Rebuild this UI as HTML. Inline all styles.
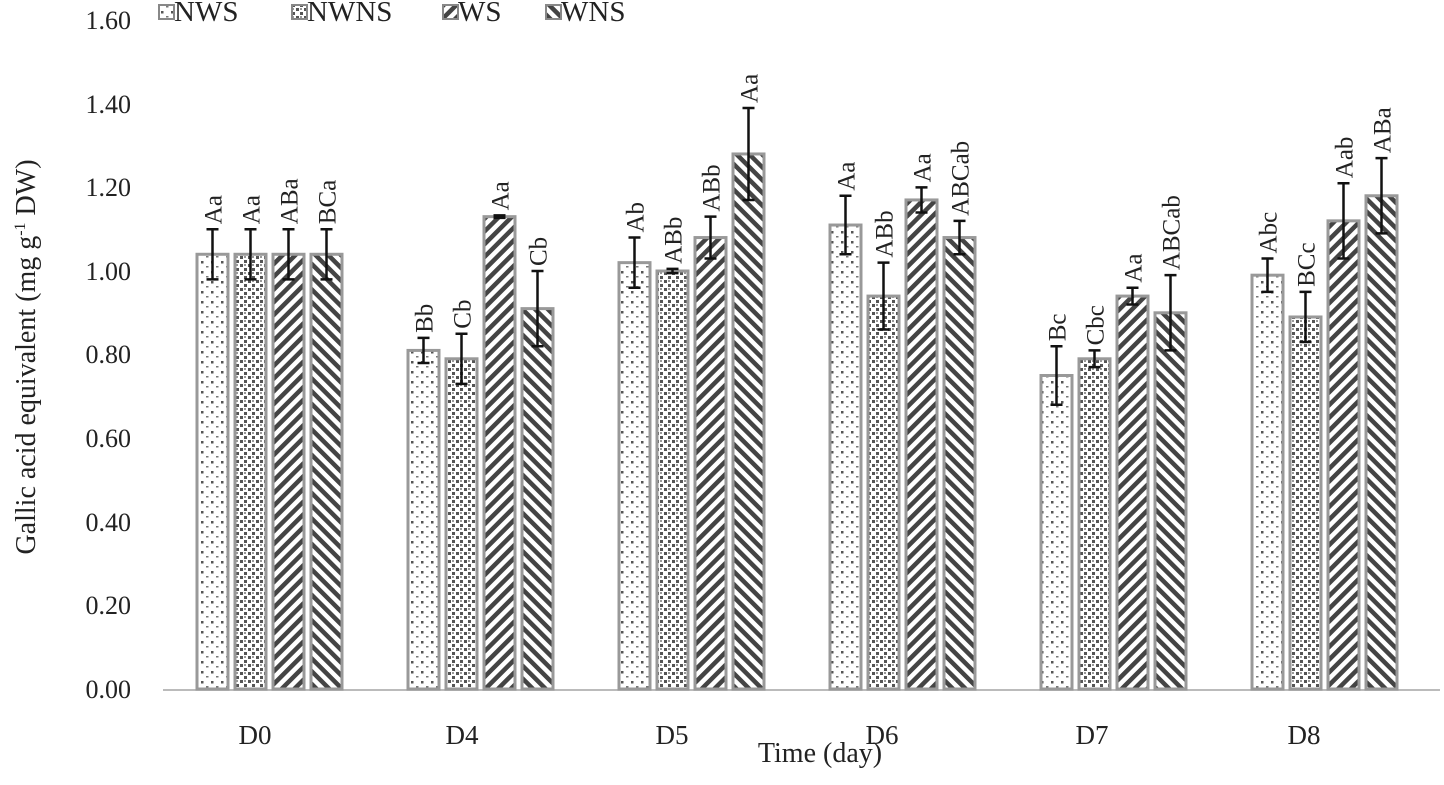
<!DOCTYPE html><html><head><style>body{margin:0;background:#fff}svg text{font-family:"Liberation Serif",serif;fill:#222}</style></head><body>
<svg width="1444" height="780" xmlns="http://www.w3.org/2000/svg">
<defs>
<pattern id="p0" width="10" height="10" patternUnits="userSpaceOnUse"><rect width="10" height="10" fill="#fff"/><rect x="1" y="1" width="2.5" height="2.5" fill="#555"/><rect x="6" y="6" width="2.5" height="1.5" fill="#777"/></pattern>
<pattern id="p1" width="8" height="8" patternUnits="userSpaceOnUse"><rect width="8" height="8" fill="#fff"/><rect x="0" y="0" width="3" height="3" fill="#555"/><rect x="4" y="4" width="3" height="3" fill="#555"/><rect x="4" y="0" width="2" height="2" fill="#999"/></pattern>
<pattern id="p2" width="9" height="9" patternUnits="userSpaceOnUse" patternTransform="rotate(-45)"><rect width="9" height="9" fill="#fff"/><rect width="9" height="4.5" fill="#444"/></pattern>
<pattern id="p3" width="9" height="9" patternUnits="userSpaceOnUse" patternTransform="rotate(45)"><rect width="9" height="9" fill="#fff"/><rect width="9" height="4.5" fill="#444"/></pattern>
</defs>
<g font-size="26" text-anchor="end">
<text x="131" y="29">1.60</text><text x="131" y="113">1.40</text><text x="131" y="196">1.20</text><text x="131" y="280">1.00</text><text x="131" y="363">0.80</text><text x="131" y="447">0.60</text><text x="131" y="531">0.40</text><text x="131" y="614">0.20</text><text x="131" y="698">0.00</text>
</g>
<text font-size="28" transform="translate(35,357) rotate(-90)" text-anchor="middle">Gallic acid equivalent (mg g<tspan dy="-10" font-size="16">-1</tspan><tspan dy="10"> DW)</tspan></text>
<line x1="163" y1="690" x2="1440" y2="690" stroke="#bbb" stroke-width="2"/>
<g id="g"></g>
<g font-size="27" text-anchor="middle">
<text x="255" y="744">D0</text><text x="462" y="744">D4</text><text x="672" y="744">D5</text><text x="882" y="744">D6</text><text x="1092" y="744">D7</text><text x="1304" y="744">D8</text>
</g>
<text x="820" y="762" font-size="28" text-anchor="middle">Time (day)</text>
<g font-size="29">
<rect x="159" y="5" width="15" height="14" fill="url(#p0)" stroke="#888" stroke-width="2"/><text x="174" y="21">NWS</text>
<rect x="292" y="5" width="15" height="14" fill="url(#p1)" stroke="#888" stroke-width="2"/><text x="307" y="21">NWNS</text>
<rect x="443" y="5" width="15" height="14" fill="url(#p2)" stroke="#888" stroke-width="2"/><text x="458" y="21">WS</text>
<rect x="546" y="5" width="15" height="14" fill="url(#p3)" stroke="#888" stroke-width="2"/><text x="561" y="21">WNS</text>
</g>
</svg>
<script>
var d=[[[1.04,.06,"Aa"],[1.04,.06,"Aa"],[1.04,.06,"ABa"],[1.04,.06,"BCa"]],
[[.81,.03,"Bb"],[.79,.06,"Cb"],[1.13,.003,"Aa"],[.91,.09,"Cb"]],
[[1.02,.06,"Ab"],[1.00,.005,"ABb"],[1.08,.05,"ABb"],[1.28,.11,"Aa"]],
[[1.11,.07,"Aa"],[.94,.08,"ABb"],[1.17,.03,"Aa"],[1.08,.04,"ABCab"]],
[[.75,.07,"Bc"],[.79,.02,"Cbc"],[.94,.02,"Aa"],[.90,.09,"ABCab"]],
[[.99,.04,"Abc"],[.89,.06,"BCc"],[1.12,.09,"Aab"],[1.18,.09,"ABa"]]];
var Y=v=>689-v*418,s="",st=[197,408,619,830,1041,1252];
d.forEach((g,i)=>g.forEach((b,j)=>{var x=st[i]+j*38,w=31,c=x+w/2;
s+=`<rect x="${x}" y="${Y(b[0])}" width="${w}" height="${689-Y(b[0])}" fill="url(#p${j})" stroke="#999" stroke-width="3"/>`;
var t=Y(b[0]+b[1]),bo=Y(b[0]-b[1]);
s+=`<path d="M${c} ${t}V${bo}M${c-6} ${t}h12M${c-6} ${bo}h12" stroke="#111" stroke-width="2.5" fill="none"/>`;
s+=`<text font-size="25" transform="translate(${c+9},${t-5}) rotate(-90)">${b[2]}</text>`;}));
document.getElementById("g").outerHTML=s;
</script>
</body></html>
